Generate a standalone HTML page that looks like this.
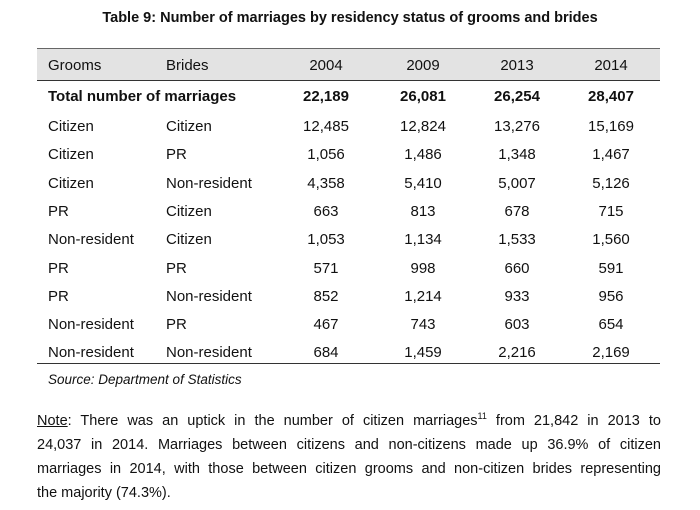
<!DOCTYPE html>
<html><head><style>
body{margin:0;background:#fff;width:700px;height:510px;position:relative;font-family:"Liberation Sans",sans-serif;color:#111;overflow:hidden}
.a{position:absolute;white-space:nowrap;font-size:15px;line-height:16px}
.c{transform:translateX(-50%)}
.b{font-weight:bold}
.ln{position:absolute;left:37px;width:624px;font-size:14.5px;line-height:20px;text-align:justify;text-align-last:justify;white-space:nowrap}
</style></head><body>
<div class="a b" style="left:350px;top:10px;transform:translateX(-50%);font-size:14.5px">Table 9: Number of marriages by residency status of grooms and brides</div>
<div style="position:absolute;left:37px;top:48px;width:623px;height:31px;background:#e3e3e3;border-top:1.5px solid #666;border-bottom:1.5px solid #333"></div>
<div style="position:absolute;left:37px;top:363px;width:623px;border-top:1.5px solid #333"></div>
<div class="a" style="left:48px;top:58px">Grooms</div>
<div class="a" style="left:166px;top:58px">Brides</div>
<div class="a c" style="left:326px;top:58px">2004</div>
<div class="a c" style="left:423px;top:58px">2009</div>
<div class="a c" style="left:517px;top:58px">2013</div>
<div class="a c" style="left:611px;top:58px">2014</div>
<div class="a b" style="left:48px;top:89px">Total number of marriages</div>
<div class="a b c" style="left:326px;top:89px">22,189</div>
<div class="a b c" style="left:423px;top:89px">26,081</div>
<div class="a b c" style="left:517px;top:89px">26,254</div>
<div class="a b c" style="left:611px;top:89px">28,407</div>
<div id="rows"></div>
<script>
var r=[["Citizen","Citizen","12,485","12,824","13,276","15,169"],["Citizen","PR","1,056","1,486","1,348","1,467"],["Citizen","Non-resident","4,358","5,410","5,007","5,126"],["PR","Citizen","663","813","678","715"],["Non-resident","Citizen","1,053","1,134","1,533","1,560"],["PR","PR","571","998","660","591"],["PR","Non-resident","852","1,214","933","956"],["Non-resident","PR","467","743","603","654"],["Non-resident","Non-resident","684","1,459","2,216","2,169"]];
var xs=[48,166,326,423,517,611],h="";
r.forEach(function(row,i){var y=119+i*28.3;row.forEach(function(t,j){h+='<div class="a'+(j>1?' c':'')+'" style="left:'+xs[j]+'px;top:'+y+'px">'+t+'</div>';});});
document.getElementById("rows").innerHTML=h;
</script>
<div class="a" style="left:48px;top:372px;font-style:italic;font-size:13.5px">Source: Department of Statistics</div>
<div class="ln" style="top:411px"><u>Note</u>: There was an uptick in the number of citizen marriages<sup style="font-size:9px;line-height:0">11</sup> from 21,842 in 2013 to</div>
<div class="ln" style="top:435px">24,037 in 2014. Marriages between citizens and non-citizens made up 36.9% of citizen</div>
<div class="ln" style="top:459px">marriages in 2014, with those between citizen grooms and non-citizen brides representing</div>
<div class="ln" style="top:483px;text-align-last:left">the majority (74.3%).</div>
</body></html>
